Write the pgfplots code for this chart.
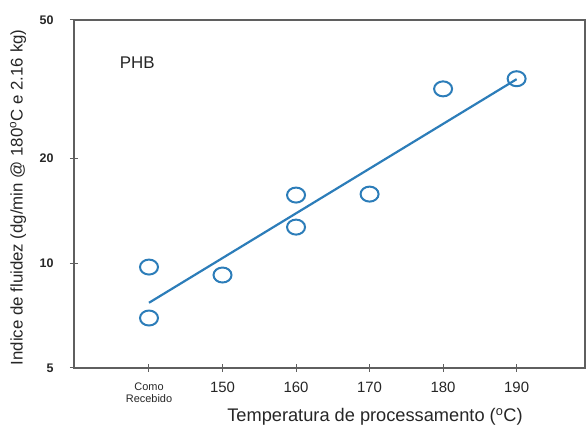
\documentclass[border=0pt]{standalone}
\usepackage{pgfplots}
\pgfplotsset{compat=1.18}
\usepackage{fontspec}
\setmainfont{Liberation Sans}
\definecolor{ptblue}{RGB}{44,125,185}
\definecolor{axgray}{RGB}{95,95,95}
\begin{document}
\begin{tikzpicture}
\begin{axis}[
  scale only axis, width=511bp, height=348bp,
  xmin=129.8, xmax=199.3, ymin=5, ymax=50, ymode=log,
  ytick={5,10,20,50}, yticklabels={5,10,20,50}, yminorticks=false,
  xtick={140,150,160,170,180,190},
  xticklabels={{\fontsize{11}{11}\selectfont Como\\[-4bp]\fontsize{11}{11}\selectfont Recebido},150,160,170,180,190},
  xticklabel style={align=center, font=\fontsize{15}{16}\selectfont, text=black!85, yshift=-7bp},
  yticklabel style={font=\fontsize{12.5}{14}\selectfont\bfseries, text=black!85, xshift=-13bp},
  tick align=center, major tick length=8bp, xtick pos=bottom, ytick pos=left,
  axis line style={axgray, line width=1.2bp},
  tick style={axgray, line width=1bp},
  xlabel={Temperatura de processamento (\textsuperscript{o}C)},
  xlabel style={font=\fontsize{18.3}{20}\selectfont, text=black!85, at={(axis description cs:0.589,-0.141)}, anchor=center},
  ylabel={Indice de fluidez (dg/min @ 180\textsuperscript{o}C e 2.16 kg)},
  ylabel style={font=\fontsize{16.9}{18}\selectfont, text=black!85, at={(axis description cs:-0.1096,0.49)}, anchor=center},
]
\addplot[ptblue, line width=2.2bp, no marks] coordinates {(140,7.7) (190,33.8)};
\addplot[only marks, mark=o, mark size=7.5bp, mark options={ptblue, line width=2bp, xscale=1.2}]
  coordinates {(140,9.75) (140,6.96) (150,9.25) (160,15.7) (160,12.7) (170,15.8) (180,31.7) (190,33.9)};
\node[font=\fontsize{17}{19}\selectfont, text=black!85] at (rel axis cs:0.124,0.878) {PHB};
\end{axis}
\pgfresetboundingbox
\path ([shift={(-74bp,-59bp)}]current axis.south west) rectangle ([shift={(1bp,20bp)}]current axis.north east);
\end{tikzpicture}
\end{document}
